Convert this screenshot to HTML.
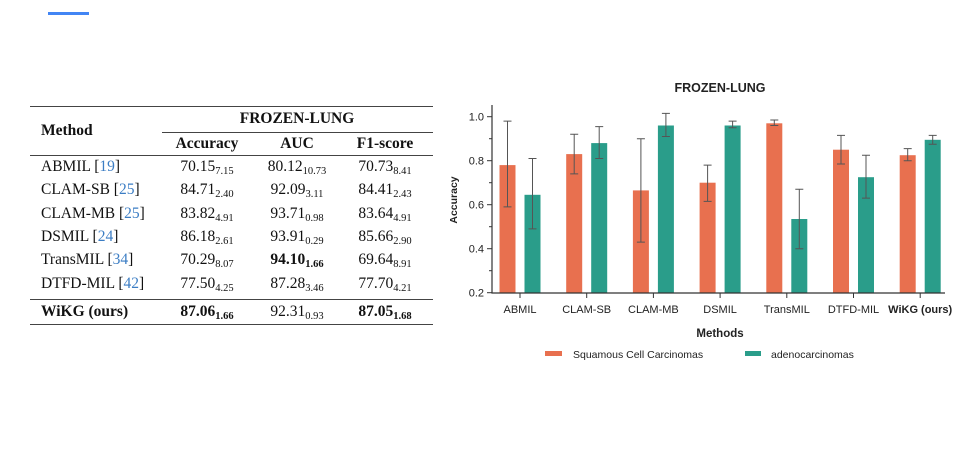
<!DOCTYPE html>
<html><head><meta charset="utf-8"><style>
body{margin:0;width:969px;height:455px;background:#fff;position:relative;overflow:hidden;font-family:"Liberation Serif",serif}
.t{position:absolute;font-size:15.5px;color:#111;white-space:nowrap}
.c{transform:translateX(-50%)}
sub{font-size:10.5px;vertical-align:-3px}
.r{position:absolute;background:#444}
.ref{color:#3b7dc4}
</style></head><body>
<div style="position:absolute;left:48px;top:12px;width:41px;height:3px;background:#4285f4"></div>
<div>
<div class="r" style="left:30px;top:106px;width:403px;height:1.3px"></div>
<div class="r" style="left:162px;top:132px;width:271px;height:1px"></div>
<div class="r" style="left:30px;top:155px;width:403px;height:1px"></div>
<div class="r" style="left:30px;top:299px;width:403px;height:1.2px"></div>
<div class="r" style="left:30px;top:324px;width:403px;height:1.3px"></div>
<div class="t" style="left:41px;top:122px;font-weight:bold">Method</div>
<div class="t c" style="left:297px;top:110px;font-weight:bold">FROZEN-LUNG</div>
<div class="t c" style="left:207px;top:135px;font-weight:bold">Accuracy</div>
<div class="t c" style="left:297px;top:135px;font-weight:bold">AUC</div>
<div class="t c" style="left:385px;top:135px;font-weight:bold">F1-score</div>
<div id="rows"></div>
</div>
<svg id="chart" width="969" height="455" style="position:absolute;left:0;top:0;font-family:'Liberation Sans',sans-serif"></svg>
<script>
const rows=[["ABMIL","19","70.15","7.15","80.12","10.73","70.73","8.41"],["CLAM-SB","25","84.71","2.40","92.09","3.11","84.41","2.43"],["CLAM-MB","25","83.82","4.91","93.71","0.98","83.64","4.91"],["DSMIL","24","86.18","2.61","93.91","0.29","85.66","2.90"],["TransMIL","34","70.29","8.07","94.10","1.66","69.64","8.91"],["DTFD-MIL","42","77.50","4.25","87.28","3.46","77.70","4.21"]];
const R=document.getElementById('rows');let h='';
const cx=[207,297,385];
rows.forEach((r,i)=>{const y=158+i*23.3;
h+=`<div class="t" style="left:41px;top:${y}px">${r[0]} [<span class="ref">${r[1]}</span>]</div>`;
for(let k=0;k<3;k++){const b=(i==4&&k==1)?'font-weight:bold;':'';h+=`<div class="t c" style="left:${cx[k]}px;top:${y}px;${b}">${r[2+2*k]}<sub>${r[3+2*k]}</sub></div>`;}});
h+=`<div class="t" style="left:41px;top:303px;font-weight:bold">WiKG (ours)</div>`;
h+=`<div class="t c" style="left:207px;top:303px;font-weight:bold">87.06<sub>1.66</sub></div><div class="t c" style="left:297px;top:303px">92.31<sub>0.93</sub></div><div class="t c" style="left:385px;top:303px;font-weight:bold">87.05<sub>1.68</sub></div>`;
R.innerHTML=h;

const categories=["ABMIL","CLAM-SB","CLAM-MB","DSMIL","TransMIL","DTFD-MIL","WiKG (ours)"];
const scc=[0.78,0.83,0.665,0.70,0.97,0.85,0.825];
const sccLo=[0.59,0.74,0.43,0.615,0.96,0.785,0.80];
const sccHi=[0.98,0.92,0.90,0.78,0.985,0.915,0.855];
const adc=[0.645,0.88,0.96,0.96,0.535,0.725,0.895];
const adcLo=[0.49,0.81,0.91,0.95,0.40,0.63,0.875];
const adcHi=[0.81,0.955,1.015,0.98,0.67,0.825,0.915];
const yTicks=[0.2,0.4,0.6,0.8,1.0];
const svg=document.getElementById('chart');const NS='http://www.w3.org/2000/svg';
function el(t,a,txt){const e=document.createElementNS(NS,t);for(const k in a)e.setAttribute(k,a[k]);if(txt!=null)e.textContent=txt;svg.appendChild(e);return e;}
const y=v=>292.7-(v-0.2)*220;
const x=i=>520+i*66.7;
const OR='#e8704f',TE='#2a9d8a';
let e;
e=el('text',{x:720,y:92,'text-anchor':'middle','font-size':12.5,'font-weight':'bold',fill:'#222'},'FROZEN-LUNG');


function bar(i,v,lo,hi,dx,c,nm){
 e=el('rect',{x:x(i)+dx-8,y:y(v),width:16,height:y(0.2)-y(v),fill:c});
 
 
 const cxp=x(i)+dx;
 e=el('path',{d:`M${cxp},${y(lo)}V${y(hi)}M${cxp-4},${y(lo)}H${cxp+4}M${cxp-4},${y(hi)}H${cxp+4}`,stroke:'#555','stroke-width':1,fill:'none'});
 
 
}
categories.forEach((c,i)=>{
 bar(i,scc[i],sccLo[i],sccHi[i],-12.5,OR,'bar-squamous');
 bar(i,adc[i],adcLo[i],adcHi[i],12.5,TE,'bar-adeno');
 e=el('line',{x1:x(i),x2:x(i),y1:293,y2:298,stroke:'#333'});
 
 
 e=el('text',{x:x(i),y:313,'text-anchor':'middle','font-size':11,fill:'#222','font-weight':i==6?'bold':'normal'},c);
 
 
});
yTicks.forEach(t=>{
 e=el('line',{x1:487,x2:492,y1:y(t),y2:y(t),stroke:'#333'});
 
 
 if(t<0.95){
 e=el('line',{x1:489,x2:492,y1:y(t+0.1),y2:y(t+0.1),stroke:'#333'});
 
 
 }
 e=el('text',{x:484,y:y(t)+4,'text-anchor':'end','font-size':11,fill:'#222'},t.toFixed(1));
 
 
});
e=el('path',{d:`M492,105V293H945`,stroke:'#333','stroke-width':1.2,fill:'none'});


e=el('text',{x:0,y:0,transform:'translate(457,200) rotate(-90)','text-anchor':'middle','font-size':10.5,'font-weight':'bold',fill:'#222'},'Accuracy');


e=el('text',{x:720,y:337,'text-anchor':'middle','font-size':11.5,'font-weight':'bold',fill:'#222'},'Methods');


e=el('rect',{x:545,y:351,width:17,height:5,fill:OR});


e=el('text',{x:573,y:358,'font-size':10.5,fill:'#222'},'Squamous Cell Carcinomas');


e=el('rect',{x:745,y:351,width:16,height:5,fill:TE});


e=el('text',{x:771,y:358,'font-size':10.5,fill:'#222'},'adenocarcinomas');


</script>
</body></html>
